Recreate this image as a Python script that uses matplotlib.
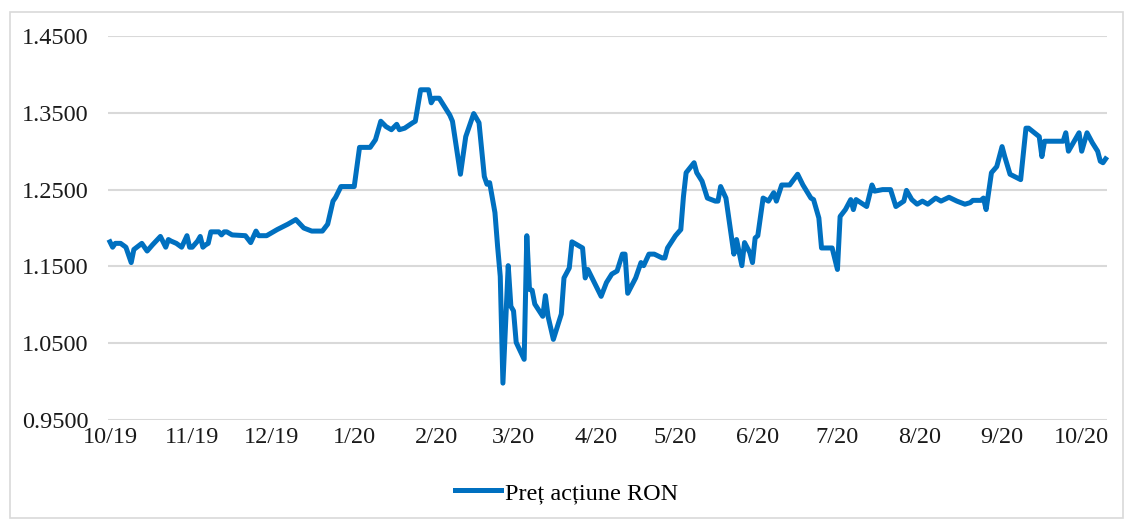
import pandas as pd
import matplotlib
matplotlib.use('Agg')
import matplotlib.pyplot as plt
import matplotlib.dates as mdates
from matplotlib.patches import Rectangle

plt.rcParams['font.family'] = ['Liberation Serif', 'DejaVu Serif']

# daily closing price
dates = [
    '2019-10-01', '2019-10-02', '2019-10-03', '2019-10-05', '2019-10-07', '2019-10-09',
    '2019-10-10', '2019-10-13', '2019-10-15', '2019-10-17', '2019-10-20', '2019-10-22',
    '2019-10-23', '2019-10-24', '2019-10-26', '2019-10-28', '2019-10-30', '2019-10-31',
    '2019-11-01', '2019-11-03', '2019-11-04', '2019-11-05', '2019-11-06', '2019-11-07',
    '2019-11-08', '2019-11-11', '2019-11-12', '2019-11-13', '2019-11-14', '2019-11-16',
    '2019-11-21', '2019-11-23', '2019-11-25', '2019-11-26', '2019-11-29', '2019-12-03',
    '2019-12-07', '2019-12-10', '2019-12-13', '2019-12-16', '2019-12-20', '2019-12-22',
    '2019-12-24', '2019-12-25', '2019-12-27', '2020-01-01', '2020-01-03', '2020-01-07',
    '2020-01-09', '2020-01-11', '2020-01-13', '2020-01-15', '2020-01-17', '2020-01-18',
    '2020-01-20', '2020-01-23', '2020-01-24', '2020-01-26', '2020-01-29', '2020-01-30',
    '2020-01-31', '2020-02-02', '2020-02-04', '2020-02-06', '2020-02-07', '2020-02-10',
    '2020-02-12', '2020-02-14', '2020-02-15', '2020-02-17', '2020-02-19', '2020-02-20',
    '2020-02-21', '2020-02-23', '2020-02-24', '2020-02-25', '2020-02-26', '2020-02-28',
    '2020-02-29', '2020-03-01', '2020-03-02', '2020-03-05', '2020-03-06', '2020-03-07',
    '2020-03-08', '2020-03-09', '2020-03-12', '2020-03-13', '2020-03-14', '2020-03-16',
    '2020-03-19', '2020-03-20', '2020-03-22', '2020-03-23', '2020-03-27', '2020-03-28',
    '2020-03-29', '2020-04-03', '2020-04-05', '2020-04-07', '2020-04-09', '2020-04-11',
    '2020-04-12', '2020-04-13', '2020-04-16', '2020-04-18', '2020-04-19', '2020-04-21',
    '2020-04-23', '2020-04-26', '2020-04-27', '2020-04-28', '2020-05-01', '2020-05-03',
    '2020-05-04', '2020-05-05', '2020-05-08', '2020-05-09', '2020-05-11', '2020-05-13',
    '2020-05-16', '2020-05-17', '2020-05-18', '2020-05-20', '2020-05-23', '2020-05-24',
    '2020-05-26', '2020-05-27', '2020-05-29', '2020-05-30', '2020-05-31', '2020-06-01',
    '2020-06-03', '2020-06-05', '2020-06-07', '2020-06-08', '2020-06-10', '2020-06-13',
    '2020-06-16', '2020-06-18', '2020-06-21', '2020-06-22', '2020-06-24', '2020-06-25',
    '2020-06-29', '2020-07-01', '2020-07-02', '2020-07-04', '2020-07-06', '2020-07-07',
    '2020-07-08', '2020-07-12', '2020-07-14', '2020-07-15', '2020-07-18', '2020-07-21',
    '2020-07-23', '2020-07-26', '2020-07-27', '2020-07-29', '2020-07-31', '2020-08-02',
    '2020-08-04', '2020-08-07', '2020-08-09', '2020-08-12', '2020-08-15', '2020-08-18',
    '2020-08-20', '2020-08-21', '2020-08-24', '2020-08-25', '2020-08-26', '2020-08-28',
    '2020-08-30', '2020-09-01', '2020-09-02', '2020-09-04', '2020-09-08', '2020-09-10',
    '2020-09-11', '2020-09-15', '2020-09-16', '2020-09-17', '2020-09-24', '2020-09-25',
    '2020-09-26', '2020-09-30', '2020-10-01', '2020-10-03', '2020-10-05', '2020-10-07',
    '2020-10-08', '2020-10-09', '2020-10-10',
]
price = [
    1.182, 1.175, 1.180, 1.180, 1.175, 1.155,
    1.172, 1.180, 1.170, 1.178, 1.189, 1.175,
    1.185, 1.183, 1.180, 1.175, 1.190, 1.175,
    1.175, 1.183, 1.189, 1.175, 1.178, 1.180,
    1.195, 1.195, 1.191, 1.195, 1.195, 1.191,
    1.190, 1.181, 1.196, 1.190, 1.190, 1.198,
    1.205, 1.211, 1.200, 1.196, 1.196, 1.205,
    1.235, 1.240, 1.254, 1.254, 1.305, 1.305,
    1.315, 1.339, 1.332, 1.328, 1.335, 1.328,
    1.330, 1.337, 1.339, 1.380, 1.380, 1.363,
    1.369, 1.369, 1.358, 1.347, 1.339, 1.270,
    1.319, 1.339, 1.349, 1.337, 1.267, 1.257,
    1.259, 1.220, 1.176, 1.137, 0.998, 1.151,
    1.098, 1.092, 1.051, 1.029, 1.190, 1.120,
    1.119, 1.101, 1.085, 1.112, 1.085, 1.055,
    1.088, 1.135, 1.148, 1.182, 1.174, 1.135,
    1.146, 1.111, 1.129, 1.140, 1.144, 1.166,
    1.166, 1.115, 1.135, 1.155, 1.151, 1.166,
    1.166, 1.161, 1.161, 1.174, 1.190, 1.198,
    1.241, 1.272, 1.285, 1.272, 1.261, 1.239,
    1.235, 1.235, 1.254, 1.239, 1.166, 1.185,
    1.151, 1.181, 1.168, 1.155, 1.187, 1.190,
    1.239, 1.235, 1.246, 1.235, 1.256, 1.256,
    1.270, 1.256, 1.239, 1.237, 1.213, 1.174,
    1.174, 1.146, 1.215, 1.224, 1.237, 1.224,
    1.237, 1.228, 1.256, 1.248, 1.250, 1.250,
    1.228, 1.235, 1.249, 1.237, 1.231, 1.235,
    1.231, 1.239, 1.235, 1.240, 1.235, 1.231,
    1.233, 1.236, 1.236, 1.239, 1.224, 1.272,
    1.280, 1.306, 1.293, 1.270, 1.263, 1.330,
    1.330, 1.319, 1.293, 1.313, 1.313, 1.324,
    1.300, 1.324, 1.300, 1.324, 1.311, 1.300,
    1.287, 1.285, 1.290,
]
series_name = 'Preț acțiune RON'
month_ticks = pd.date_range('2019-10-01', '2020-10-01', freq='MS')
y_ticks = [0.95, 1.05, 1.15, 1.25, 1.35, 1.45]

x = pd.to_datetime(dates)

fig = plt.figure(figsize=(11.33, 5.25), dpi=100)
ax = fig.add_axes([0.0953, 0.2, 0.8817, 0.7314])

ax.plot(x, price, color='#0070C0', linewidth=3.6, solid_joinstyle='round',
        label=series_name, clip_on=False)

ax.set_ylim(0.95, 1.45)
ax.set_yticks(y_ticks)
ax.set_yticklabels(['%.4f' % v for v in y_ticks])
ax.set_xlim(pd.Timestamp('2019-09-30 06:00'), pd.Timestamp('2020-10-10 12:00'))
ax.set_xticks(month_ticks)
ax.xaxis.set_major_formatter(mdates.DateFormatter('%-m/%y'))

ax.grid(axis='y', color='#D9D9D9', linewidth=1.5)
ax.set_axisbelow(True)
for s in ax.spines.values():
    s.set_visible(False)
ax.tick_params(axis='both', length=0, labelsize=17.5, colors='#1a1a1a')
ax.tick_params(axis='y', pad=14)
ax.tick_params(axis='x', pad=5)

fig.legend(loc='center', bbox_to_anchor=(0.5, 0.061), frameon=False,
           fontsize=17.5, handlelength=1.9, handletextpad=0.15)

fig.patches.append(Rectangle((10 / 1133, 7 / 525), 1113 / 1133, 506 / 525,
                             transform=fig.transFigure, fill=False,
                             edgecolor='#D9D9D9', linewidth=1.2))

fig.savefig('out.png', dpi=100)
